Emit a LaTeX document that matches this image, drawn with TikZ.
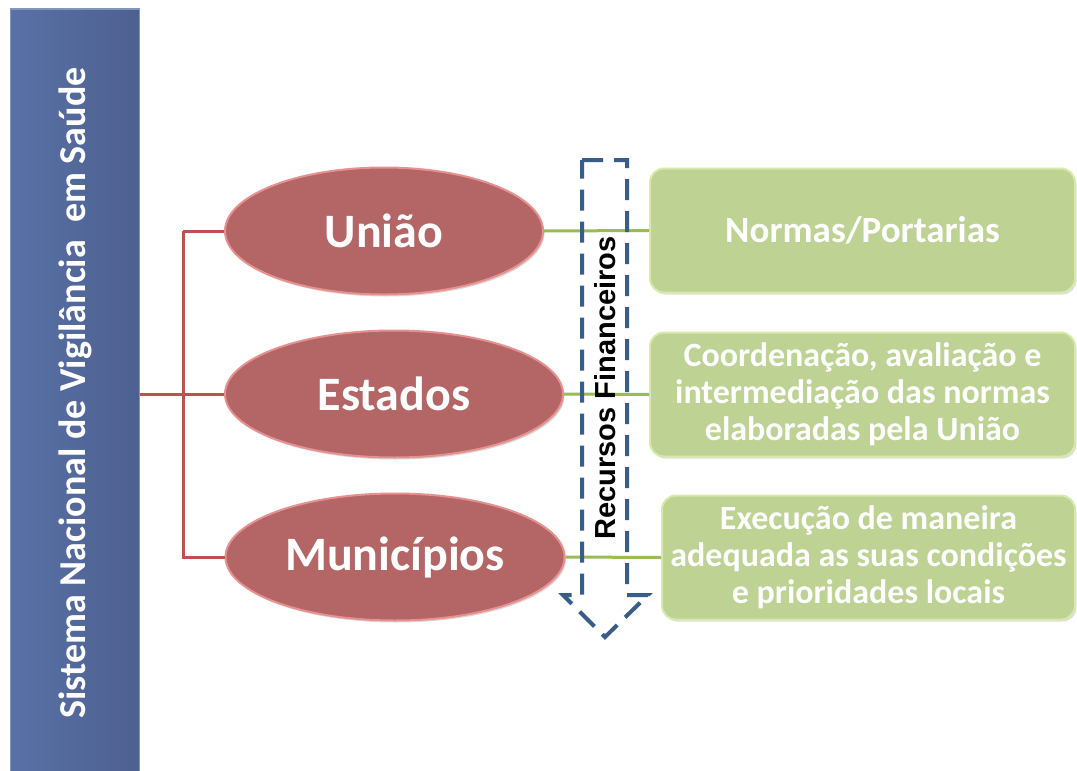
\documentclass[tikz,border=0pt]{standalone}
\usepackage{fontspec}
\setmainfont{Carlito}
\newfontfamily\arialfont{Liberation Sans}
\usetikzlibrary{shapes.geometric,positioning,shadows}
\definecolor{sysblue}{RGB}{78,96,144}
\definecolor{sysbluelight}{RGB}{88,113,166}
\definecolor{levelred}{RGB}{180,101,101}
\definecolor{levelrim}{RGB}{232,144,144}
\definecolor{taskgreen}{RGB}{189,210,147}
\definecolor{taskrim}{RGB}{214,234,170}
\definecolor{linkred}{RGB}{192,80,77}
\definecolor{linkgreen}{RGB}{155,187,89}
\definecolor{flowblue}{RGB}{56,93,138}

\begin{document}
\begin{tikzpicture}[x=1pt,y=-1pt,
				sysbox/.style={rectangle,left color=sysbluelight,right color=sysblue,
					draw=sysbluelight!75!white,line width=1.5pt,inner sep=0pt,text=white,
					font=\fontsize{38}{44}\selectfont\bfseries},
				level/.style={ellipse,fill=levelred,draw=levelrim,line width=2pt,
					minimum height=127,inner sep=0pt,text=white,
					font=\fontsize{48}{56}\selectfont\bfseries,
					drop shadow={opacity=0.3,shadow xshift=1.5pt,shadow yshift=-2pt}},
				task/.style={rectangle,rounded corners=14pt,fill=taskgreen,draw=taskrim,
					line width=2pt,minimum height=124,inner sep=0pt,align=center,text=white,
					font=\fontsize{34}{37}\selectfont\bfseries,
					drop shadow={opacity=0.25,shadow xshift=1.5pt,shadow yshift=-2pt}},
				redlink/.style={linkred,line width=3pt},
				greenlink/.style={linkgreen,line width=3pt}]
				\clip (0,0) rectangle (1077,771);
				\fill[white] (0,0) rectangle (1077,771);
				
				% System column on the left.
				\node[sysbox,minimum width=129,minimum height=768] (sistema) at (75,393)
				{\rotatebox{90}{Sistema Nacional de Vigilância\ \ em Saúde}};
				
				% Government levels.
				\node[level,minimum width=318] (uniao) at (384,231) {União};
				\node[level,minimum width=338] (estados) at (394,394) {Estados};
				\node[level,minimum width=339] (municipios) at (395,557) {Municípios};
				
				% Responsibilities.
				\node[task,minimum width=425,font=\fontsize{37}{40}\selectfont\bfseries]
				(normas) at (862.5,230.5) {Normas/Portarias};
				\node[task,minimum width=425] (coordena) at (862.5,394.5)
				{Coordenação, avaliação e\\intermediação das normas\\elaboradas pela União};
				\node[task,minimum width=413] (execucao) at (868.5,557.5)
				{Execução de maneira\\adequada as suas condições\\e prioridades locais};
				
				% Bracket from the system to the levels.
				\coordinate (fork) at (183,394);
				\draw[redlink] (sistema.east |- estados.west) -- (estados.west);
				\draw[redlink] (fork |- uniao.west) -- (uniao.west);
				\draw[redlink] (fork |- uniao.west) -- (fork |- municipios.west) -- (municipios.west);
				
				% Links from levels to responsibilities.
				\draw[greenlink] (uniao.east) -- (normas.west);
				\draw[greenlink] (estados.east) -- (coordena.west);
				\draw[greenlink] (municipios.east) -- (execucao.west);
				
				% Downward flow of financial resources.
				\draw[flowblue,line width=4pt,dash pattern=on 21pt off 11pt,line join=miter]
				(582,160) -- (627,160) -- (627,595) -- (648,595) -- (605,637)
				-- (563,595) -- (582,595) -- cycle;
				\node[rotate=90,font=\arialfont\fontsize{29}{34}\selectfont\bfseries]
				(recursos) at (605,388) {Recursos Financeiros};
			\end{tikzpicture}
\end{document}
